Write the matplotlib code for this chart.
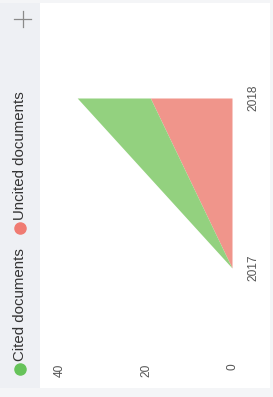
import matplotlib
matplotlib.use("Agg")
import matplotlib.pyplot as plt
from matplotlib.lines import Line2D
from matplotlib.patches import Rectangle

plt.rcParams['font.family'] = ['Liberation Sans', 'DejaVu Sans']

years = [2017, 2018]
uncited = [0, 19]
cited = [0, 17]
series_names = ["Cited documents", "Uncited documents"]
value_ticks = [0, 20, 40]

W, H = 273, 397
fig = plt.figure(figsize=(W / 100, H / 100), dpi=100)
fig.patch.set_facecolor('white')

def fx(px):
    return px / W

def fy(py):
    return 1 - py / H

# background panels
fig.add_artist(Rectangle((0, 0), 1, 1, transform=fig.transFigure,
                         facecolor='#f4f5f7', edgecolor='none', zorder=-3))
fig.add_artist(Rectangle((fx(40), fy(388)), fx(270) - fx(40), fy(3) - fy(388),
                         transform=fig.transFigure, facecolor='white',
                         edgecolor='none', zorder=-2))
fig.add_artist(Rectangle((0, fy(388)), fx(40), fy(3) - fy(388),
                         transform=fig.transFigure, facecolor='#eef0f4',
                         edgecolor='none', zorder=-2))

# plus icon
fig.add_artist(Line2D([fx(14), fx(31)], [fy(19), fy(19)], transform=fig.transFigure,
                      color='#8a8a8a', lw=0.9))
fig.add_artist(Line2D([fx(22.5), fx(22.5)], [fy(11), fy(27)], transform=fig.transFigure,
                      color='#8a8a8a', lw=0.9))

# axes (values run right-to-left, years bottom-to-top)
left_px, right_px, top_px, bot_px = 45, 232, 20, 358
ax = fig.add_axes([fx(left_px), fy(bot_px), fx(right_px) - fx(left_px), fy(top_px) - fy(bot_px)])
ax.set_facecolor('white')
scale = 4.3  # px per unit
ax.set_xlim((right_px - left_px) / scale, 0)
y2017, y2018 = 268, 98
ppy = (y2017 - y2018)
ax.set_ylim(2017 - (bot_px - y2017) / ppy, 2018 + (y2018 - top_px) / ppy)

total = [u + c for u, c in zip(uncited, cited)]
ax.fill_betweenx(years, 0, uncited, color='#f0958b', linewidth=0)
ax.fill_betweenx(years, uncited, total, color='#93d17f', linewidth=0)

for s in ax.spines.values():
    s.set_visible(False)

ax.set_xticks(value_ticks)
ax.set_xticklabels([str(v) for v in value_ticks], rotation=90, fontsize=8.6, color='#555555')
ax.tick_params(axis='x', length=0, pad=4)
ax.yaxis.tick_right()
ax.set_yticks(years)
ax.set_yticklabels([str(y) for y in years], rotation=90, fontsize=8.6, color='#555555', va='center')
ax.tick_params(axis='y', length=0, pad=11)

# legend (rotated)
fig.add_artist(Line2D([fx(20)], [fy(369)], transform=fig.transFigure, marker='o',
                      markersize=8, color='#66c35a', linestyle='none'))
fig.text(fx(20), fy(361), series_names[0], rotation=90, ha='center', va='bottom',
         fontsize=10.8, color='#333333')
fig.add_artist(Line2D([fx(20)], [fy(228)], transform=fig.transFigure, marker='o',
                      markersize=8, color='#f07b72', linestyle='none'))
fig.text(fx(20), fy(220), series_names[1], rotation=90, ha='center', va='bottom',
         fontsize=10.8, color='#333333')

fig.savefig('out.png', dpi=100)
